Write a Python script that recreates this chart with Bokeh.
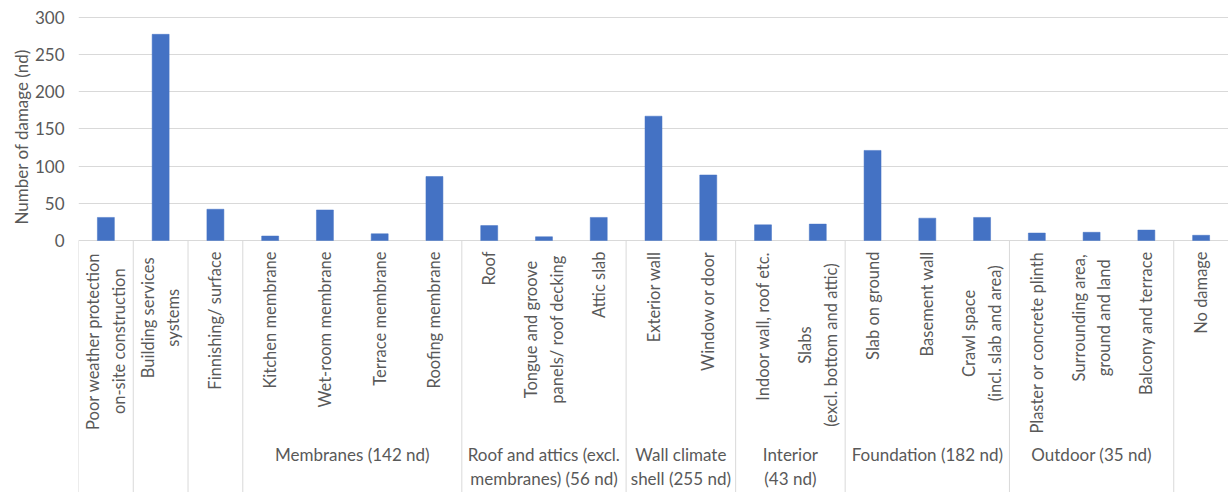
from math import pi
from bokeh.plotting import figure
from bokeh.models import Range1d, FixedTicker, ColumnDataSource, Title
from bokeh.core.properties import value
from bokeh.embed import file_html
from bokeh.resources import INLINE

# ---------------- data ----------------
categories = [
    "Poor weather protection\non-site construction",
    "Building services\nsystems",
    "Finnishing/ surface",
    "Kitchen membrane",
    "Wet-room membrane",
    "Terrace membrane",
    "Roofing membrane",
    "Roof",
    "Tongue and groove\npanels/ roof decking",
    "Attic slab",
    "Exterior wall",
    "Window or door",
    "Indoor wall, roof etc.",
    "Slabs\n(excl. bottom and attic)",
    "Slab on ground",
    "Basement wall",
    "Crawl space\n(incl. slab and area)",
    "Plaster or concrete plinth",
    "Surrounding area,\nground and land",
    "Balcony and terrace",
    "No damage",
]
counts = [31, 277, 42, 6, 41, 9, 86, 20, 5, 31, 167, 88, 21, 22, 121, 30, 31, 10, 11, 14, 7]

group_names = ["", "", "", "Membranes (142 nd)", "Roof and attics (excl.\nmembranes) (56 nd)",
               "Wall climate\nshell (255 nd)", "Interior\n(43 nd)", "Foundation (182 nd)",
               "Outdoor (35 nd)", ""]
group_sizes = [1, 1, 1, 4, 3, 2, 2, 3, 3, 1]

y_ticks = [0, 50, 100, 150, 200, 250, 300]
y_title = "Number of damage (nd)"

# ---------------- layout helpers ----------------
W, H = 1228, 492
LEFT, TOP = 78, 10
ZERO_PX = 240.0          # pixel row of value 0
TOP_PX = 16.7            # pixel row of value 300
K = (ZERO_PX - TOP_PX) / 300.0
Y1 = 300 + (TOP_PX - TOP) / K
Y0 = -(H - ZERO_PX) / K
N = len(categories)


def py2y(py):
    return (ZERO_PX - py) / K


FONT = "Lato"
TXT = "#595959"
FS = 17
FS_CAT = 16.5
CW = 7.8  # approx px per char for centering multi-line labels

p = figure(width=W, height=H, x_range=Range1d(0, N), y_range=Range1d(Y0, Y1),
           output_backend="svg", toolbar_location=None, x_axis_location=None,
           min_border_left=LEFT, min_border_right=0, min_border_top=TOP, min_border_bottom=0)
p.outline_line_color = None
p.background_fill_color = "white"
p.border_fill_color = "white"
p.xgrid.visible = False
p.ygrid.ticker = FixedTicker(ticks=y_ticks)
p.ygrid.grid_line_color = "#d9d9d9"
p.ygrid.grid_line_width = 1
p.yaxis.ticker = FixedTicker(ticks=y_ticks)
p.yaxis.axis_line_color = None
p.yaxis.major_tick_line_color = None
p.yaxis.minor_tick_line_color = None
p.yaxis.major_tick_out = 0
p.yaxis.major_label_standoff = 14
p.yaxis.major_label_text_font = FONT
p.yaxis.major_label_text_font_size = f"{FS}px"
p.yaxis.major_label_text_color = TXT

# y-axis title as a left-side title, shifted up to sit beside 0..300
p.add_layout(Title(text=y_title, align="left", offset=H - 224, standoff=0,
                   text_font=FONT, text_font_size=f"{FS}px", text_font_style="normal",
                   text_color=TXT), "left")

xs = [i + 0.5 for i in range(N)]
src = ColumnDataSource(dict(x=xs, top=counts, cat=categories))
p.vbar(x="x", top="top", bottom=0, width=0.31, source=src,
       fill_color="#4472C4", line_color="#4472C4", line_width=0.5)

# separators between groups
bounds = [0]
for s in group_sizes:
    bounds.append(bounds[-1] + s)
sep_x = bounds[:-1]
p.segment(x0=sep_x, y0=[0] * len(sep_x), x1=sep_x, y1=[Y0] * len(sep_x),
          line_color="#d9d9d9", line_width=1)

# category labels (rotated)
single = dict(x=[], y=[], t=[])
multi = dict(x=[], y=[], t=[])
top_y_px = 251
for x, c in zip(xs, categories):
    lines = c.split("\n")
    if len(lines) == 1:
        single["x"].append(x)
        single["y"].append(py2y(top_y_px))
        single["t"].append(c)
    else:
        L = max(len(l) for l in lines) * CW
        multi["x"].append(x)
        multi["y"].append(py2y(top_y_px + L / 2))
        multi["t"].append(c)

p.text(x="x", y="y", text="t", source=ColumnDataSource(single), angle=pi / 2,
       text_align="right", text_baseline="middle", text_font=value(FONT),
       text_font_size=f"{FS_CAT}px", text_color=TXT)
p.text(x="x", y="y", text="t", source=ColumnDataSource(multi), angle=pi / 2,
       text_align="center", text_baseline="middle", text_font=value(FONT),
       text_font_size=f"{FS_CAT}px", text_color=TXT, text_line_height=1.28)

# group labels
gx, gt = [], []
for name, a, b in zip(group_names, bounds[:-1], bounds[1:]):
    if name:
        gx.append((a + b) / 2)
        gt.append(name)
p.text(x=gx, y=[py2y(443)] * len(gx), text=gt, text_align="center", text_baseline="top",
       text_font=value(FONT), text_font_size=f"{FS}px", text_color=TXT, text_line_height=1.15)

open("out.html", "w").write(file_html(p, INLINE))
